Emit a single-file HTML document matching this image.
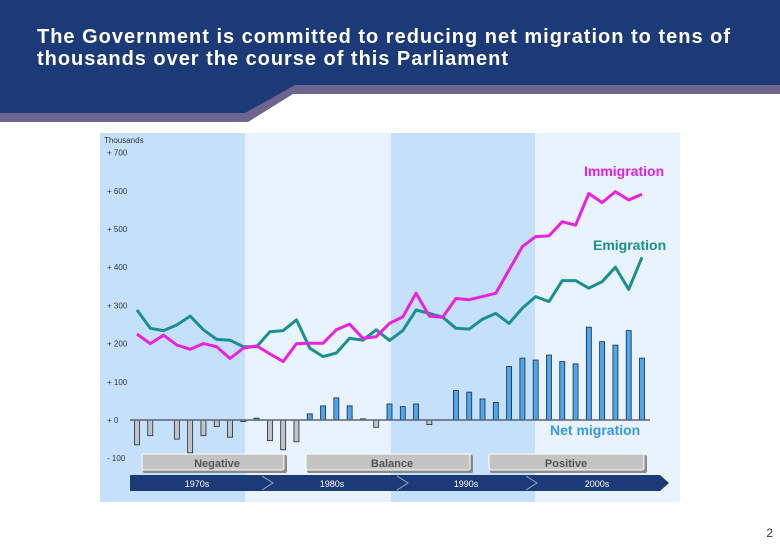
<!DOCTYPE html>
<html><head><meta charset="utf-8">
<style>
body{margin:0;width:780px;height:540px;background:#fff;overflow:hidden;font-family:"Liberation Sans",Arial,sans-serif;}
</style></head>
<body>
<svg width="780" height="540" xmlns="http://www.w3.org/2000/svg">
<g>
<polygon points="0,0 780,0 780,94 293,94 248,122 0,122" fill="#6e6490"/>
<polygon points="0,0 780,0 780,85 295,85 245,113 0,113" fill="#1c3a78"/>
<text x="37" y="43" fill="#fff" font-size="20" font-weight="bold" textLength="693" lengthAdjust="spacing">The Government is committed to reducing net migration to tens of</text>
<text x="37" y="65" fill="#fff" font-size="20" font-weight="bold" textLength="471" lengthAdjust="spacing">thousands over the course of this Parliament</text>
</g>
<g>
<rect x="100" y="133" width="580" height="369" fill="#e8f3fd"/>
<rect x="100" y="133" width="145" height="369" fill="#c5e0fa"/>
<rect x="391" y="133" width="144" height="369" fill="#c5e0fa"/>
</g>
<g id="axis"></g>
<g id="bars"></g>
<line x1="130" y1="420" x2="650" y2="420" stroke="#5a6478" stroke-width="1.5"/>
<g id="lines"></g>
<text x="584" y="176" fill="#e020e0" font-size="14" font-weight="bold">Immigration</text>
<text x="593" y="250" fill="#1a9090" font-size="14" font-weight="bold">Emigration</text>
<text x="550" y="435" fill="#3a9ae0" font-size="14" font-weight="bold">Net migration</text>
<g>
<g>
<rect x="143" y="455" width="144" height="18" rx="2" fill="#8a8a8a"/>
<rect x="142" y="454" width="142" height="16" rx="2" fill="#c4c4c4" stroke="#fff"/>
<text x="217" y="467" text-anchor="middle" font-size="11" font-weight="bold" fill="#555">Negative</text>
<rect x="307" y="455" width="166" height="18" rx="2" fill="#8a8a8a"/>
<rect x="306" y="454" width="164" height="16" rx="2" fill="#c4c4c4" stroke="#fff"/>
<text x="392" y="467" text-anchor="middle" font-size="11" font-weight="bold" fill="#555">Balance</text>
<rect x="490" y="455" width="157" height="18" rx="2" fill="#8a8a8a"/>
<rect x="489" y="454" width="155" height="16" rx="2" fill="#c4c4c4" stroke="#fff"/>
<text x="566" y="467" text-anchor="middle" font-size="11" font-weight="bold" fill="#555">Positive</text>
</g>
<polygon points="130,475 660,475 669,483 660,491 130,491" fill="#1c3a78"/>
<polyline points="262,476 273,483 262,490" fill="none" stroke="#9ab" stroke-width="1"/>
<polyline points="397,476 408,483 397,490" fill="none" stroke="#9ab" stroke-width="1"/>
<polyline points="526,476 537,483 526,490" fill="none" stroke="#9ab" stroke-width="1"/>
<text x="197" y="487" fill="#fff" font-size="9" text-anchor="middle">1970s</text>
<text x="332" y="487" fill="#fff" font-size="9" text-anchor="middle">1980s</text>
<text x="466" y="487" fill="#fff" font-size="9" text-anchor="middle">1990s</text>
<text x="597" y="487" fill="#fff" font-size="9" text-anchor="middle">2000s</text>
</g>
<text x="773" y="537" font-size="12" fill="#333" text-anchor="end">2</text>
</svg>
<script>
const years = [];
for (let y = 1970; y <= 2008; y++) years.push(y);
const immigration = [225,200,222,196,185,200,192,161,188,194,173,153,200,201,201,236,251,214,218,253,270,332,272,269,318,315,323,332,393,454,480,482,519,510,593,569,598,576,591];
const emigration = [288,240,234,249,272,236,211,209,192,192,231,234,262,188,166,175,214,209,236,208,234,288,279,269,240,238,264,279,253,293,323,310,365,365,345,362,400,342,426];
const netMigration = [-65,-41,0,-50,-86,-41,-17,-45,-4,5,-54,-78,-57,16,37,58,37,3,-19,42,35,42,-12,0,77,73,55,46,140,162,157,170,153,147,243,205,196,234,162];
const yTicks = [-100,0,100,200,300,400,500,600,700];
const yTickLabels = ["- 100","+ 0","+ 100","+ 200","+ 300","+ 400","+ 500","+ 600","+ 700"];

const NS = "http://www.w3.org/2000/svg";
const xs = i => 137 + i * (505 / (years.length - 1));
const ys = v => 420 - v * 0.382;

const axis = document.getElementById('axis');
const th = document.createElementNS(NS, 'text');
th.setAttribute('x', 104); th.setAttribute('y', 143);
th.setAttribute('font-size', '8'); th.setAttribute('fill', '#334');
th.textContent = 'Thousands';


axis.appendChild(th);
yTicks.forEach((t, k) => {
  const tx = document.createElementNS(NS, 'text');
  tx.setAttribute('x', 107); tx.setAttribute('y', ys(t) + 3);
  tx.setAttribute('font-size', '8'); tx.setAttribute('fill', '#334');
  tx.textContent = yTickLabels[k];
  
  
  axis.appendChild(tx);
});

const bars = document.getElementById('bars');
netMigration.forEach((v, i) => {
  if (v === 0) return;
  const r = document.createElementNS(NS, 'rect');
  const y0 = ys(0), y1 = ys(v);
  r.setAttribute('x', xs(i) - 2.5);
  r.setAttribute('y', Math.min(y0, y1));
  r.setAttribute('width', 5);
  r.setAttribute('height', Math.abs(y1 - y0));
  r.setAttribute('fill', v < 0 ? '#c4c4c4' : '#4ea6ec');
  r.setAttribute('stroke', '#1a2a40');
  r.setAttribute('stroke-width', '0.8');
  
  
  bars.appendChild(r);
});

const lines = document.getElementById('lines');
function drawLine(data, color, name) {
  const p = document.createElementNS(NS, 'polyline');
  p.setAttribute('points', data.map((v, i) => xs(i).toFixed(1) + ',' + ys(v).toFixed(1)).join(' '));
  p.setAttribute('fill', 'none');
  p.setAttribute('stroke', color);
  p.setAttribute('stroke-width', '3');
  p.setAttribute('stroke-linejoin', 'round');
  
  
  lines.appendChild(p);
}
drawLine(emigration, '#1a9090', 'emigration-line');
drawLine(immigration, '#e822e0', 'immigration-line');
</script>
</body></html>
